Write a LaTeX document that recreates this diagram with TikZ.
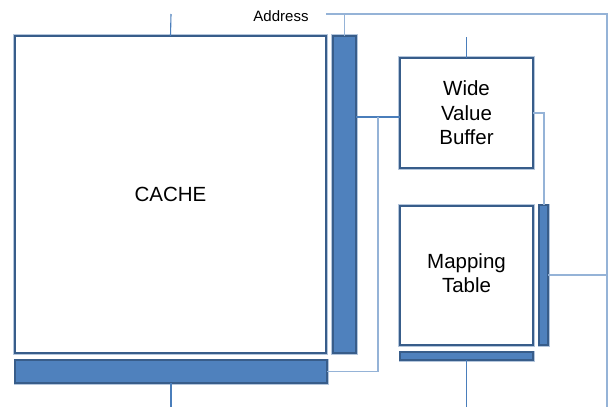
\documentclass[tikz,border=0pt]{standalone}
\usepackage{fontspec}
\setmainfont{Liberation Sans}
\definecolor{dkb}{HTML}{385D8A}
\definecolor{fillb}{HTML}{4F81BD}
\definecolor{halo}{HTML}{B4C6DC}
\definecolor{lightl}{HTML}{95B3D7}
\definecolor{medl}{HTML}{4A7EBB}
\begin{document}
\begin{tikzpicture}[x=1pt,y=-1pt,
  box/.style={draw=dkb, line width=2.3pt, fill=white, inner sep=0pt, outer sep=0pt,
    preaction={draw=halo, line width=3.8pt}, align=center,
    font=\fontsize{20.5}{24.5}\selectfont},
  barbox/.style={draw=dkb, line width=1.8pt, fill=fillb, inner sep=0pt, outer sep=0pt,
    preaction={draw=halo, line width=3pt}},
  lconn/.style={draw=lightl, line width=1.2pt},
  mconn/.style={draw=medl, line width=1.1pt}]
\useasboundingbox (0,0) rectangle (613,407);
% boxes
\node[box, minimum width=311pt, minimum height=317pt] (cache) at (170.5,194.5) {CACHE};
\node[box, minimum width=23pt, minimum height=317pt, barbox] (vbar) at (344.5,194.5) {};
\node[barbox, minimum width=312pt, minimum height=23pt] (hbar) at (171,371.5) {};
\node[box, minimum width=133pt, minimum height=110pt] (wvb) at (466.5,113) {Wide\\Value\\Buffer};
\node[box, minimum width=133pt, minimum height=139pt] (map) at (466.5,275.5) {\raisebox{2pt}{\begin{tabular}{@{}c@{}}Mapping\\Table\end{tabular}}};
\node[barbox, minimum width=133pt, minimum height=8pt] (mbar) at (466.5,356) {};
\node[barbox, minimum width=9pt, minimum height=140pt] (rbar) at (543.5,275) {};
\node[font=\fontsize{15}{18}\selectfont, inner sep=0pt] (addr) at (281,16) {Address};
% coordinates
\coordinate (ctop) at (171,14);
\coordinate (cbot) at (171,407);
\coordinate (aL) at (326,14);
\coordinate (aR) at (607,14);
\coordinate (aB) at (607,407);
\coordinate (wtop) at (466.5,37);
\coordinate (mbot) at (466.5,407);
\coordinate (j1) at (378,117);
\coordinate (j2) at (378,371.5);
\coordinate (j3) at (544,113);
% connectors
\draw[mconn] (cache.north) -- (ctop);
\draw[mconn] (hbar.south) -- (cbot);
\draw[lconn] (aL) -- (aR) -- (aB);
\draw[lconn] (vbar.north) -- (vbar.north |- aL);
\draw[mconn] (wvb.north) -- (wtop);
\draw[mconn] (mbar.south) -- (mbot);
\draw[mconn] (vbar.east |- j1) -- (wvb.west |- j1);
\draw[lconn] (j1) -- (j2) -- (hbar.east);
\draw[lconn] (wvb.east) -- (j3) -- (j3 |- rbar.north);
\draw[lconn] (rbar.east) -- (rbar.east -| aB);
\end{tikzpicture}
\end{document}
